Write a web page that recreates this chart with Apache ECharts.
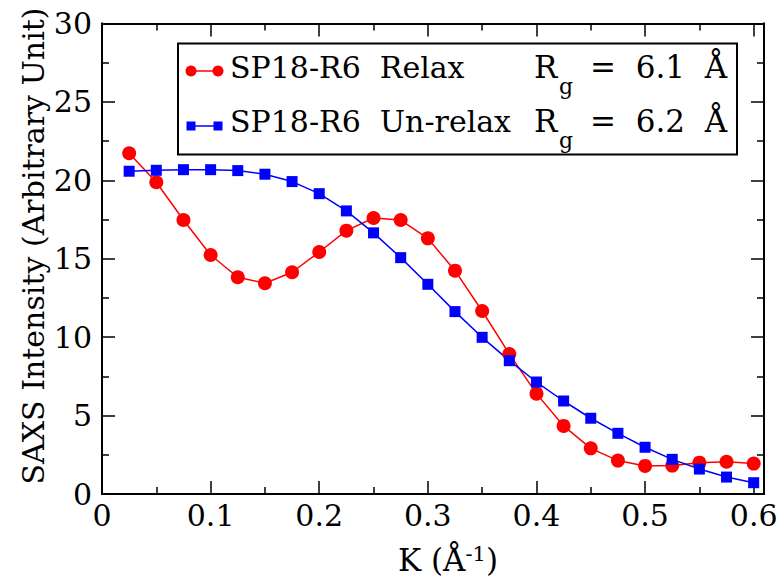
<!DOCTYPE html>
<html>
<head>
<meta charset="utf-8">
<script src="https://cdn.jsdelivr.net/npm/echarts@6/dist/echarts.min.js"></script>
<style>html,body{margin:0;padding:0;background:#fff}#c{width:784px;height:586px}</style>
</head>
<body>
<div id="c"></div>
<script>
// ---- data ----
var kValues = [0.025,0.05,0.075,0.1,0.125,0.15,0.175,0.2,0.225,0.25,0.275,0.3,0.325,0.35,0.375,0.4,0.425,0.45,0.475,0.5,0.525,0.55,0.575,0.6];
var relaxValues = [21.73,19.88,17.47,15.24,13.82,13.44,14.14,15.43,16.79,17.60,17.47,16.30,14.24,11.67,8.93,6.40,4.34,2.91,2.13,1.79,1.81,2.00,2.06,1.94];
var unrelaxValues = [20.58,20.64,20.68,20.68,20.62,20.39,19.92,19.15,18.05,16.65,15.07,13.37,11.63,9.99,8.50,7.14,5.93,4.83,3.87,2.98,2.21,1.59,1.08,0.72];
var xMajorTicks = [0,0.1,0.2,0.3,0.4,0.5,0.6];
var xMinorTicks = [0.05,0.15,0.25,0.35,0.45,0.55];
var yMajorTicks = [0,5,10,15,20,25,30];
var yMinorTicks = [2.5,7.5,12.5,17.5,22.5,27.5];
var seriesNames = ['SP18-R6  Relax','SP18-R6  Un-relax'];
var rgValues = ['6.1','6.2'];

var FONT = 'DejaVu Serif';
var FS = 30;
var X_MAX = 0.6095;

function pairs(xs, ys){ return xs.map(function(x,i){ return [x, ys[i]]; }); }

function xAxisCfg(grid, pos, ticks, len, labels){
  return {
    type:'value', gridIndex:grid, position:pos, min:0, max:X_MAX,
    axisLine:{show:true, onZero:false, lineStyle:{color:'#000', width:2}},
    axisTick:{show:true, inside:true, length:len, customValues:ticks, lineStyle:{color:'#000', width:1.5}},
    axisLabel:{show:!!labels, customValues:ticks, margin:6, color:'#000', fontSize:30, fontFamily:FONT,
      formatter:function(v){ return String(Math.round(v*10)/10); }},
    splitLine:{show:false}
  };
}
function yAxisCfg(grid, pos, ticks, len, labels){
  return {
    type:'value', gridIndex:grid, position:pos, min:0, max:30,
    axisLine:{show:true, onZero:false, lineStyle:{color:'#000', width:2}},
    axisTick:{show:true, inside:true, length:len, customValues:ticks, lineStyle:{color:'#000', width:1.5}},
    axisLabel:{show:!!labels, customValues:ticks, margin:10, color:'#000', fontSize:30, fontFamily:FONT},
    splitLine:{show:false}
  };
}

var chart = echarts.init(document.getElementById('c'), null, {renderer:'svg'});
var gridRect = {left:102, top:23.5, right:20, bottom:92};
var option = {
  animation:false,
  backgroundColor:'#fff',
  textStyle:{fontFamily:FONT},
  grid:[Object.assign({}, gridRect), Object.assign({}, gridRect)],
  xAxis:[
    xAxisCfg(0,'bottom',xMajorTicks,13,true),
    xAxisCfg(0,'top',xMajorTicks,13,false),
    xAxisCfg(1,'bottom',xMinorTicks,7,false),
    xAxisCfg(1,'top',xMinorTicks,7,false)
  ],
  yAxis:[
    yAxisCfg(0,'left',yMajorTicks,13,true),
    yAxisCfg(0,'right',yMajorTicks,13,false),
    yAxisCfg(1,'left',yMinorTicks,7,false),
    yAxisCfg(1,'right',yMinorTicks,7,false)
  ],
  series:[
    {name:seriesNames[0], type:'line', xAxisIndex:0, yAxisIndex:0, data:pairs(kValues, relaxValues),
     symbol:'circle', symbolSize:14, itemStyle:{color:'#ff0000'}, lineStyle:{color:'#ff0000', width:1.5}},
    {name:seriesNames[1], type:'line', xAxisIndex:0, yAxisIndex:0, data:pairs(kValues, unrelaxValues),
     symbol:'rect', symbolSize:11, itemStyle:{color:'#0000ff'}, lineStyle:{color:'#0000ff', width:1.5}}
  ],
  graphic:[
    // axis titles
    {type:'text', x:33, y:246, rotation:Math.PI/2,
     style:{text:'SAXS Intensity (Arbitrary Unit)', fontSize:30, fontFamily:FONT, fill:'#000', align:'center', verticalAlign:'middle'}},
    {type:'text', x:448, y:560,
     style:{text:'{a|K (Å}{s|-1}{a|)}', align:'center', verticalAlign:'middle',
       rich:{a:{fontSize:31, fontFamily:FONT, color:'#000'}, s:{fontSize:21, fontFamily:FONT, color:'#000', verticalAlign:'top', padding:[0,0,12,0]}}}},
    // legend box
    {type:'rect', shape:{x:178, y:43.5, width:559, height:111}, style:{fill:'#fff', stroke:'#000', lineWidth:2}, z:100},
    // legend row 1
    {type:'line', shape:{x1:191, y1:71, x2:218, y2:71}, style:{stroke:'#ff0000', lineWidth:1.5}, z:101},
    {type:'circle', shape:{cx:191, cy:71, r:5.5}, style:{fill:'#ff0000'}, z:101},
    {type:'circle', shape:{cx:218, cy:71, r:5.5}, style:{fill:'#ff0000'}, z:101},
    {type:'text', x:230, y:67, z:101, style:{text:seriesNames[0], fontSize:FS, fontFamily:FONT, fill:'#000', verticalAlign:'middle'}},
    {type:'text', x:534, y:67, z:101, style:{text:'R', fontSize:31, fontFamily:FONT, fill:'#000', verticalAlign:'middle'}},
    {type:'text', x:559, y:86, z:101, style:{text:'g', fontSize:22, fontFamily:FONT, fill:'#000', verticalAlign:'middle'}},
    {type:'text', x:590, y:67, z:101, style:{text:'=  '+rgValues[0]+'  Å', fontSize:31, fontFamily:FONT, fill:'#000', verticalAlign:'middle'}},
    // legend row 2
    {type:'line', shape:{x1:191, y1:126, x2:218, y2:126}, style:{stroke:'#0000ff', lineWidth:1.5}, z:101},
    {type:'rect', shape:{x:186.5, y:121.5, width:9, height:9}, style:{fill:'#0000ff'}, z:101},
    {type:'rect', shape:{x:213.5, y:121.5, width:9, height:9}, style:{fill:'#0000ff'}, z:101},
    {type:'text', x:230, y:121, z:101, style:{text:seriesNames[1], fontSize:FS, fontFamily:FONT, fill:'#000', verticalAlign:'middle'}},
    {type:'text', x:534, y:121, z:101, style:{text:'R', fontSize:31, fontFamily:FONT, fill:'#000', verticalAlign:'middle'}},
    {type:'text', x:559, y:140, z:101, style:{text:'g', fontSize:22, fontFamily:FONT, fill:'#000', verticalAlign:'middle'}},
    {type:'text', x:590, y:121, z:101, style:{text:'=  '+rgValues[1]+'  Å', fontSize:31, fontFamily:FONT, fill:'#000', verticalAlign:'middle'}}
  ]
};
chart.setOption(option);
</script>
</body>
</html>
